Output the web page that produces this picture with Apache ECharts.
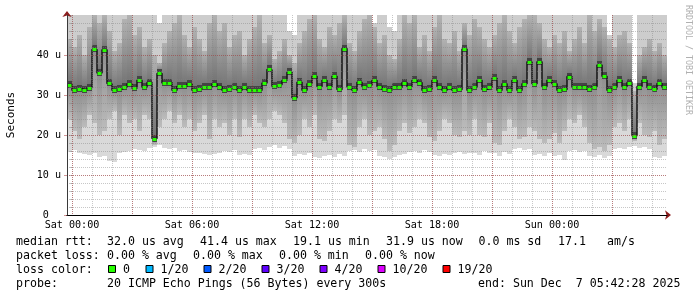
<!DOCTYPE html>
<html><head><meta charset="utf-8">
<script src="https://cdn.jsdelivr.net/npm/echarts@6/dist/echarts.min.js"></script>
<style>html,body{margin:0;padding:0;background:#fff}#c{width:697px;height:297px}</style>
</head><body><div id="c"></div>
<script>
// time of first column (hours after Sat 00:00) and column width (hours)
const START_HOUR = -0.25;
const STEP_HOURS = 0.25;

// median RTT per column (microseconds)
const median = [
 32.6,31.2,31.6,31.2,31.8,41.4,35.5,41.3,32.9,31.2,
 31.5,31.9,32.8,31.7,33.7,31.9,33.1,19.1,35.4,33.0,
 33.1,31.2,32.2,32.2,32.8,31.2,31.6,31.9,31.9,32.8,
 32.1,31.2,31.6,32.1,31.2,31.9,31.2,31.2,31.2,33.0,
 36.4,32.2,32.6,33.7,35.7,29.3,33.2,31.2,32.8,34.7,
 32.1,33.7,32.1,34.7,31.4,41.6,32.0,31.2,33.2,32.1,
 32.5,33.7,32.1,31.4,31.2,32.1,31.9,33.1,32.1,33.7,
 33.1,31.2,31.4,33.7,32.1,31.2,31.9,31.2,31.4,41.5,
 31.2,31.9,33.7,31.4,31.9,34.2,31.2,32.8,31.2,33.7,
 31.2,32.8,38.3,32.8,38.3,32.1,33.7,32.8,31.2,31.4,
 34.6,31.9,32.1,32.1,31.4,32.1,37.5,34.7,31.2,31.9,
 33.7,32.1,33.1,19.8,32.1,33.7,31.9,31.4,32.9,31.9
];
// fastest ping per column
const low = [
 15.8,16.2,15.5,15.2,15.0,15.4,14.6,14.8,13.5,13.3,
 15.5,15.8,16.0,16.5,16.2,16.0,16.8,17.0,17.5,16.8,
 16.5,16.8,16.0,16.2,15.8,15.6,15.4,15.2,15.0,15.3,
 15.6,16.0,15.8,16.2,15.0,15.2,15.0,16.5,16.8,16.2,
 17.0,17.5,16.8,17.2,16.5,14.8,15.2,15.0,15.5,14.5,
 14.2,14.8,15.0,14.6,15.2,14.8,16.0,16.2,15.8,16.5,
 16.0,16.2,14.8,14.4,14.0,14.6,15.0,15.2,15.8,16.0,
 15.6,16.2,15.8,15.0,14.8,15.2,15.0,15.5,15.8,15.2,
 15.6,15.5,15.0,16.0,15.4,15.6,14.8,15.8,15.2,16.5,
 16.8,16.2,16.5,15.0,15.2,14.8,15.5,14.8,15.0,13.8,
 16.0,16.2,15.8,16.0,14.8,14.6,15.0,14.2,14.8,16.5,
 16.8,16.5,17.0,17.2,16.8,17.0,16.5,14.5,14.2,14.8
];
// lower edge of the denser smoke below the median
const lowQuart = [
 24,21,19,22,25,23,20,21,24,26,
 20,25,23,24,21,25,24,17.5,22,24,
 26,23,25,22,24,21,23,25,19,24,
 22,23,20,24,19.5,24,22,25,23,22,
 24,26,25,23,19,18,20,24,22,25,
 19,18.5,21,24,23,25,17.5,17,22,24,
 20,21,22,19,16,17.5,21,23,20.5,22,
 24,23,19.5,18.5,21,24,23,20,19.5,21,
 20,24,20,19.5,23,18,17.5,21,24,22,
 19,19.5,22,21,19,18,19,20.5,18,21,
 24,23,25,22,18,16.5,17,16,17.5,22,
 23,21,24,18.5,23,20,19.5,21,17.5,19
];
// upper edge of the denser smoke above the median
const highQuart = [
 44,42,45,40,47,50,48,50,46,41,
 43,49,50,45,47,42,44,40,38,43,
 46,48,50,45,42,47,44,41,48,50,
 46,48,42,45,46,40,44,47,50,43,
 45,39,41,44,40,38,43,46,49,50,
 44,42,47,45,48,50,43,41,46,49,
 50,47,43,45,40,39,44,50,48,50,
 42,45,41,47,50,44,43,46,41,48,
 45,49,47,44,42,45,48,50,46,43,
 47,49,50,50,48,44,42,45,43,46,
 41,44,47,43,50,46,49,47,44,42,
 45,46,43,31,40,42,44,41,43,40
];
// slowest ping per column (clipped at the top of the graph)
const high = [
 50,50,50,50,50,50,50,50,50,50,
 50,50,50,50,50,50,50,50,48,50,
 50,50,50,50,50,50,50,50,50,50,
 50,50,50,50,50,50,50,50,50,50,
 50,50,50,50,46,45,50,50,50,50,
 50,50,50,50,50,50,50,50,50,50,
 50,48,50,50,47,46,50,50,50,50,
 50,50,50,50,50,50,50,50,50,50,
 50,50,50,50,50,50,50,50,50,50,
 50,50,50,50,50,50,50,50,50,50,
 50,50,50,50,50,50,50,50,45,50,
 50,50,50,33,50,50,50,50,50,50
];

const xTickHours = [0, 6, 12, 18, 24];
const xTickLabels = ['Sat 00:00', 'Sat 06:00', 'Sat 12:00', 'Sat 18:00', 'Sun 00:00'];
const yTickValues = [0, 10, 20, 30, 40];
const yTickLabels = ['0  ', '10 u', '20 u', '30 u', '40 u'];

const legendRow1 = [['median rtt:',16],['32.0 us avg',107],['41.4 us max',200],['19.1 us min',293],['31.9 us now',386],['0.0 ms sd',478.5],['17.1',558],['am/s',607]];
const legendRow2 = [['packet loss:',16],['0.00 % avg',107],['0.00 % max',193],['0.00 % min',279],['0.00 % now',365]];
const lossLabels = ['0','1/20','2/20','3/20','4/20','10/20','19/20'];
const lossColors = ['#26ff00','#00b8ff','#0059ff','#5e00ff','#7e00ff','#dd00ff','#ff0000'];
const lossBoxX = [108,145.5,203.5,261.5,319.5,377.5,442.5];
const legendRow4 = [['probe:',16],['20 ICMP Echo Pings (56 Bytes) every 300s',107],['end: Sun Dec  7 05:42:28 2025',478]];

const N = median.length;
const END_HOUR = START_HOUR + N * STEP_HOURS;
const smokeData = median.map((m, k) => [START_HOUR + k * STEP_HOURS, START_HOUR + (k + 1) * STEP_HOURS, low[k], lowQuart[k], m, highQuart[k], high[k]]);
const lineData = median.map((m, k) => [START_HOUR + k * STEP_HOURS, m]).concat([[END_HOUR, median[N - 1]]]);

const FONT = '"DejaVu Sans Mono", monospace';
const MINOR = 'rgba(130,130,130,0.45)';
const MAJOR = 'rgba(170,50,50,0.5)';
const ARROW = '#8c1d1d';

function lg(c0, c1) {
  return new echarts.graphic.LinearGradient(0, 0, 0, 1, [{offset: 0, color: c0}, {offset: 1, color: c1}]);
}
function colGeom(api) {
  const t0 = api.value(0), t1 = api.value(1);
  const xa = Math.round(api.coord([t0, 0])[0]);
  const xb = Math.round(api.coord([t1, 0])[0]);
  const Y = v => Math.round(api.coord([t0, v])[1]);
  return {xa, xb, Y};
}
function renderSmoke(params, api) {
  const {xa, xb, Y} = colGeom(api);
  const w = xb - xa;
  const r = (v0, v1, fill) => ({type: 'rect', shape: {x: xa, y: Y(v1), width: w, height: Y(v0) - Y(v1)}, style: {fill}});
  const ym = Y(api.value(4));
  return {type: 'group', children: [
    r(api.value(2), api.value(3), '#d9d9d9'),
    r(api.value(3), api.value(4), lg('#8e8e8e', '#bcbcbc')),
    r(api.value(4), api.value(5), lg('#b2b2b2', '#727272')),
    r(api.value(5), api.value(6), '#cdcdcd'),
    {type: 'rect', shape: {x: xa, y: ym - 4, width: w, height: 7}, style: {fill: '#444'}}
  ]};
}
function renderMedian(params, api) {
  const {xa, xb, Y} = colGeom(api);
  const ym = Y(api.value(4));
  return {type: 'rect', shape: {x: xa + 0.5, y: ym - 1, width: xb - xa - 1, height: 3}, style: {fill: lossColors[0]}};
}

const graphics = [];
function addText(text, x, y, size, fill, extra) {
  graphics.push(Object.assign({type: 'text', x, y, style: {text, fill: fill || '#000', font: size + 'px ' + FONT, align: 'left', verticalAlign: 'middle'}}, extra || {}));
}
legendRow1.forEach(([t, x]) => addText(t, x, 241.5, 11.6));
legendRow2.forEach(([t, x]) => addText(t, x, 255.5, 11.6));
addText('loss color:', 16, 269.5, 11.6);
lossLabels.forEach((t, i) => {
  graphics.push({type: 'rect', shape: {x: lossBoxX[i] + 0.5, y: 265.5, width: 7, height: 7}, style: {fill: lossColors[i], stroke: '#000', lineWidth: 1}});
  addText(t, lossBoxX[i] + 15, 269.5, 11.6);
});
legendRow4.forEach(([t, x]) => addText(t, x, 283.5, 11.6));
graphics.push({type: 'text', x: 688, y: 60, rotation: -Math.PI / 2,
  style: {text: 'RRDTOOL / TOBI OETIKER', fill: '#b0b0b0', font: '8.3px ' + FONT, align: 'center', verticalAlign: 'middle'}});

const chart = echarts.init(document.getElementById('c'), null, {renderer: 'canvas', width: 697, height: 297});
chart.setOption({
  animation: false,
  backgroundColor: '#fff',
  grid: [
    {left: 67, top: 15, width: 600, height: 200, containLabel: false, outerBoundsMode: 'none'},
    {left: 72, top: 15, width: 595, height: 200, containLabel: false, outerBoundsMode: 'none'}
  ],
  xAxis: [
    {gridIndex: 0, type: 'value', position: 'bottom', min: START_HOUR, max: END_HOUR, z: 11,
     axisLine: {show: true, onZero: false, lineStyle: {color: '#000', width: 1}}, axisTick: {show: false}, axisLabel: {show: false}, splitLine: {show: false}},
    {gridIndex: 0, type: 'value', position: 'bottom', min: START_HOUR, max: END_HOUR, z: 8,
     axisLine: {show: true, onZero: false, symbol: ['none', 'arrow'], symbolSize: [7, 6], symbolOffset: [0, 4], lineStyle: {color: ARROW, width: 1}},
     axisTick: {show: false}, axisLabel: {show: false}, splitLine: {show: false}},
    {gridIndex: 1, type: 'value', position: 'bottom', min: 0, max: END_HOUR, interval: 1, z: 9,
     axisLine: {show: false}, axisTick: {show: false}, axisLabel: {show: false},
     splitLine: {show: true, showMaxLine: false, lineStyle: {color: MINOR, type: [1, 1], width: 1}}},
    {gridIndex: 1, type: 'value', position: 'bottom', min: 0, max: END_HOUR, interval: 3, z: 10,
     axisLine: {show: false}, axisTick: {show: false},
     axisLabel: {show: true, margin: 5, color: '#000', fontFamily: FONT, fontSize: 10.1, hideOverlap: false,
       showMinLabel: true, showMaxLabel: false,
       formatter: v => { const i = xTickHours.indexOf(v); return i >= 0 ? xTickLabels[i] : ''; }},
     splitLine: {show: true, showMaxLine: false, lineStyle: {color: MAJOR, type: [1, 1], width: 1}}}
  ],
  yAxis: [
    {gridIndex: 0, type: 'value', position: 'left', min: 0, max: 50, interval: 10, z: 10,
     name: 'Seconds', nameLocation: 'middle', nameGap: 50,
     nameTextStyle: {fontFamily: FONT, fontSize: 11, color: '#000'},
     axisLine: {show: true, onZero: false, symbol: ['none', 'arrow'], symbolSize: [7, 6], symbolOffset: [0, 4], lineStyle: {color: ARROW, width: 1}},
     axisTick: {show: true, length: 3, lineStyle: {color: MAJOR}},
     axisLabel: {show: true, margin: 6, color: '#000', fontFamily: FONT, fontSize: 10.1,
       showMaxLabel: false,
       formatter: v => { const i = yTickValues.indexOf(v); return i >= 0 ? yTickLabels[i] : ''; }},
     splitLine: {show: true, showMinLine: false, showMaxLine: false, lineStyle: {color: MAJOR, type: [1, 1], width: 1}}},
    {gridIndex: 0, type: 'value', position: 'left', min: 0, max: 50, interval: 2, z: 9,
     axisLine: {show: false},
     axisTick: {show: true, length: 2, lineStyle: {color: MINOR}}, axisLabel: {show: false},
     splitLine: {show: true, showMinLine: false, showMaxLine: false, lineStyle: {color: MINOR, type: [1, 1], width: 1}}},
    {gridIndex: 0, type: 'value', position: 'left', min: 0, max: 50, z: 12,
     axisLine: {show: true, onZero: false, lineStyle: {color: '#3a3a3a', width: 1}},
     axisTick: {show: false}, axisLabel: {show: false}, splitLine: {show: false}},
    {gridIndex: 1, type: 'value', position: 'left', min: 0, max: 50, show: false}
  ],
  series: [
    {type: 'custom', name: 'smoke', xAxisIndex: 0, yAxisIndex: 0, z: 2, clip: true,
     renderItem: renderSmoke, encode: {x: [0, 1], y: [2, 3, 4, 5, 6]}, data: smokeData},
    {type: 'line', name: 'median line', xAxisIndex: 0, yAxisIndex: 0, z: 3, step: 'end',
     symbol: 'none', lineStyle: {color: '#141414', width: 1.5}, data: lineData},
    {type: 'custom', name: 'median', xAxisIndex: 0, yAxisIndex: 0, z: 4, clip: true,
     renderItem: renderMedian, encode: {x: [0, 1], y: 4}, data: smokeData}
  ],
  graphic: graphics
});
</script></body></html>
